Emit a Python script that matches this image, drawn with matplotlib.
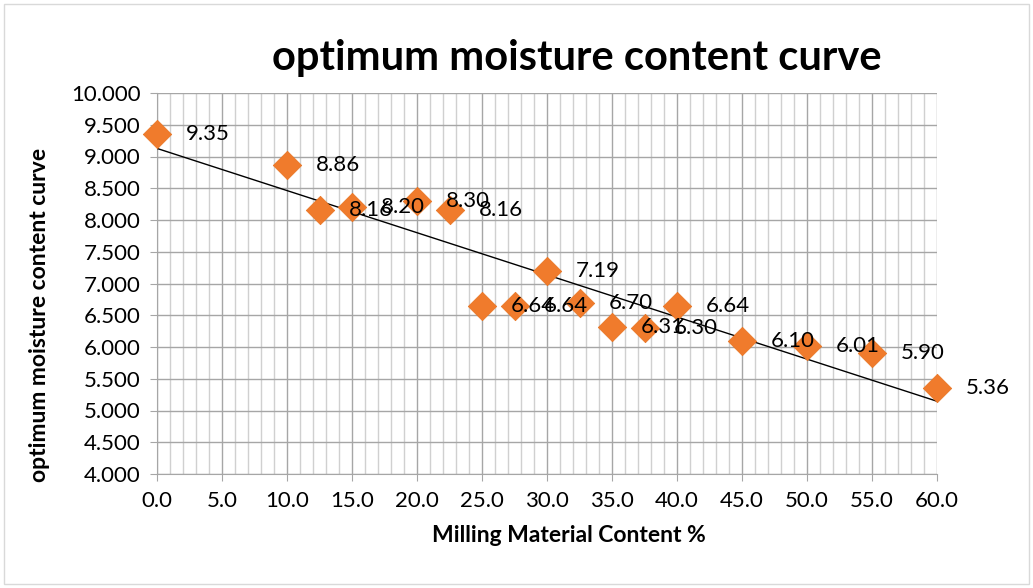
import numpy as np
import matplotlib
matplotlib.use("Agg")
import matplotlib.pyplot as plt
from matplotlib.ticker import MultipleLocator, FormatStrFormatter
from matplotlib.patches import Rectangle

# milling material content (%) and optimum moisture content
milling = [0, 10, 12.5, 15, 20, 22.5, 25, 27.5, 30, 32.5, 35, 37.5, 40, 45, 50, 55, 60]
omc = [9.35, 8.86, 8.16, 8.20, 8.30, 8.16, 6.64, 6.64, 7.19, 6.70, 6.31, 6.30, 6.64, 6.10, 6.01, 5.90, 5.36]

plt.rcParams['font.family'] = ['Lato', 'DejaVu Sans']

fig = plt.figure(figsize=(10.33, 5.88), dpi=100)
ax = fig.add_axes([157 / 1033, 1 - 474 / 588, (937 - 157) / 1033, (474 - 93) / 588])

# outer chart border
fig.patches.append(Rectangle((4 / 1033, 4 / 588), 1025 / 1033, 580 / 588,
                             transform=fig.transFigure, fill=False,
                             edgecolor='#d9d9d9', linewidth=1))

# linear trend line
slope, intercept = np.polyfit(milling, omc, 1)
xs = np.array([min(milling), max(milling)])
ax.plot(xs, slope * xs + intercept, color='black', linewidth=1, zorder=3)

ax.scatter(milling, omc, marker='D', s=210, color='#F07B2C',
           edgecolors='#E8731F', linewidths=0.5, zorder=4, clip_on=False)

for x, y in zip(milling, omc):
    ax.annotate(f'{y:.2f}', (x, y), xytext=(21, 0), textcoords='offset points',
                fontsize=16, va='center', ha='left', zorder=5)

ax.set_xlim(0, 60)
ax.set_ylim(4, 10)
ax.xaxis.set_major_locator(MultipleLocator(5))
ax.xaxis.set_minor_locator(MultipleLocator(1))
ax.yaxis.set_major_locator(MultipleLocator(0.5))
ax.xaxis.set_major_formatter(FormatStrFormatter('%.1f'))
ax.yaxis.set_major_formatter(FormatStrFormatter('%.3f'))

ax.grid(which='major', color='#a6a6a6', linewidth=1)
ax.grid(which='minor', axis='x', color='#d0d0d0', linewidth=1)
ax.set_axisbelow(True)
for s in ax.spines.values():
    s.set_visible(False)
ax.spines['left'].set_visible(True)
ax.spines['bottom'].set_visible(True)
ax.spines['left'].set_color('#a6a6a6')
ax.spines['bottom'].set_color('#a6a6a6')
ax.tick_params(which='major', length=5, color='#a6a6a6', labelsize=16, pad=7)
ax.tick_params(which='minor', length=0)

ax.set_xlabel('Milling Material Content %', fontsize=16.5, fontweight='bold')
ax.set_ylabel('optimum moisture content curve', fontsize=16.5, fontweight='bold')
ax.xaxis.set_label_coords(0.528, -0.135)
ax.yaxis.set_label_coords(-0.137, 0.417)
fig.text(577 / 1033, 1 - 58 / 588, 'optimum moisture content curve', fontsize=30,
         fontweight='bold', ha='center', va='center')

fig.savefig('out.png', dpi=100)
